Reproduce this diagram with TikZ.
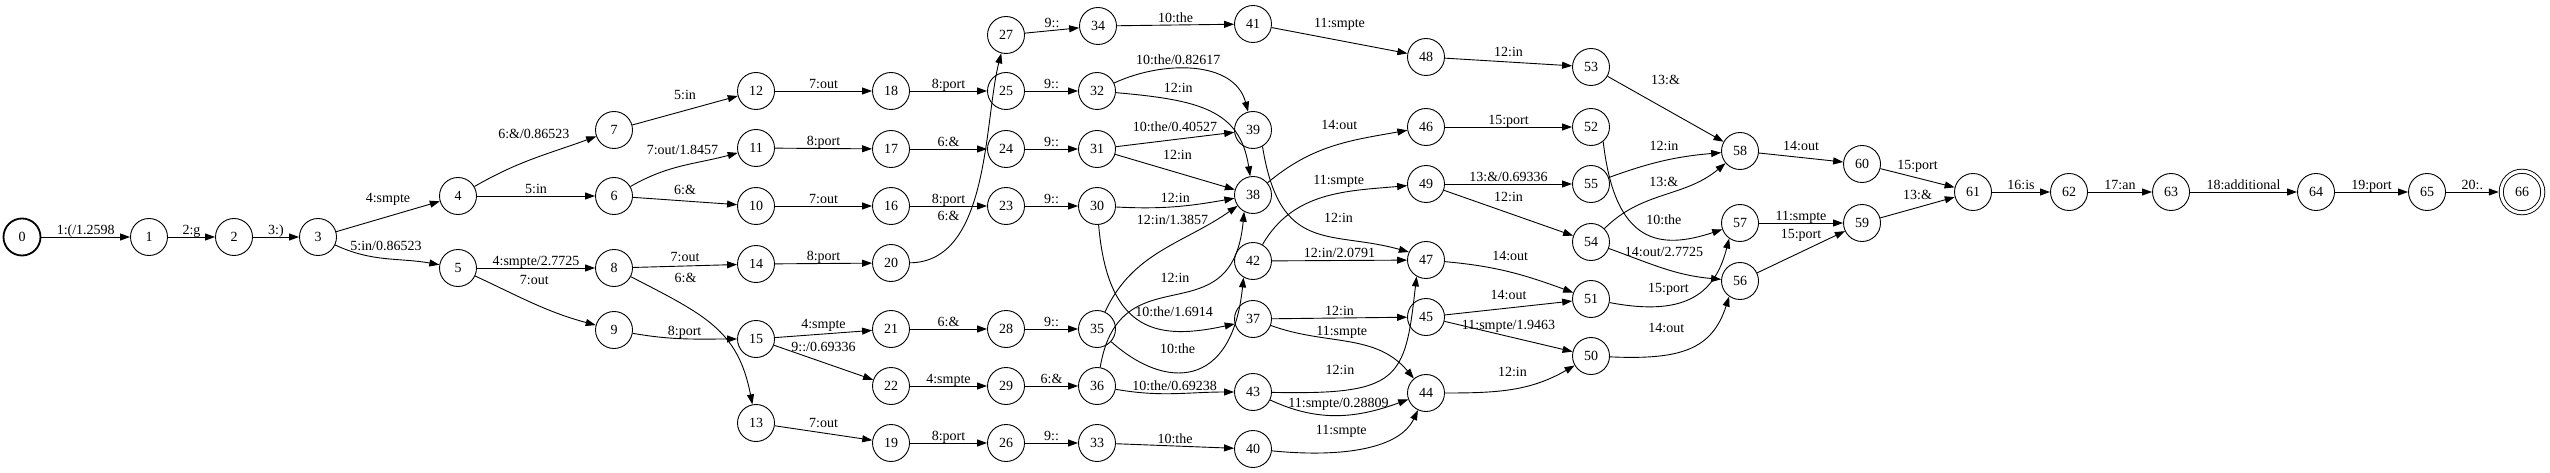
\documentclass[tikz,border=0pt]{standalone}
\usepackage{fontspec}
\setmainfont{Liberation Serif}
\usetikzlibrary{arrows.meta}

\begin{document}
\begin{tikzpicture}[x=1pt,y=1pt,>={Triangle[length=10pt,width=7pt]},line width=0.9pt,
   every node/.style={font=\fontsize{14}{16}\selectfont},
   st/.style={circle,draw,minimum size=37pt,inner sep=0pt},
   init/.style={st,line width=1.8pt},
   fin/.style={st,double,double distance=3.2pt,minimum size=41.5pt,outer sep=2.5pt},
   lab/.style={above,inner sep=0pt,text depth=2.5pt}]
   \useasboundingbox (0,0) rectangle (2550,-473);

   \node[init] (0) at (22,-237)  {0};
   \node[st] (1)  at (149,-237)  {1};
   \node[st] (2)  at (234,-237)  {2};
   \node[st] (3)  at (318,-237)  {3};
   \node[st] (4)  at (458,-196)  {4};
   \node[st] (5)  at (458,-268)  {5};
   \node[st] (6)  at (614,-196)  {6};
   \node[st] (7)  at (614,-130)  {7};
   \node[st] (8)  at (614,-268)  {8};
   \node[st] (9)  at (614,-330)  {9};
   \node[st] (10) at (756,-206)  {10};
   \node[st] (11) at (756,-148)  {11};
   \node[st] (12) at (756,-91)   {12};
   \node[st] (13) at (756,-423)  {13};
   \node[st] (14) at (756,-264)  {14};
   \node[st] (15) at (756,-339)  {15};
   \node[st] (16) at (891,-206)  {16};
   \node[st] (17) at (891,-149)  {17};
   \node[st] (18) at (891,-91)   {18};
   \node[st] (19) at (891,-443)  {19};
   \node[st] (20) at (891,-263)  {20};
   \node[st] (21) at (891,-329)  {21};
   \node[st] (22) at (891,-386)  {22};
   \node[st] (23) at (1006,-206) {23};
   \node[st] (24) at (1006,-149) {24};
   \node[st] (25) at (1006,-91)  {25};
   \node[st] (26) at (1006,-443) {26};
   \node[st] (27) at (1006,-35)  {27};
   \node[st] (28) at (1006,-329) {28};
   \node[st] (29) at (1006,-386) {29};
   \node[st] (30) at (1097,-206) {30};
   \node[st] (31) at (1097,-149) {31};
   \node[st] (32) at (1097,-91)  {32};
   \node[st] (33) at (1097,-443) {33};
   \node[st] (34) at (1098,-26)  {34};
   \node[st] (35) at (1097,-329) {35};
   \node[st] (36) at (1097,-386) {36};
   \node[st] (37) at (1253,-319) {37};
   \node[st] (38) at (1253,-195) {38};
   \node[st] (39) at (1253,-130) {39};
   \node[st] (40) at (1253,-449) {40};
   \node[st] (41) at (1253,-24)  {41};
   \node[st] (42) at (1253,-261) {42};
   \node[st] (43) at (1253,-392) {43};
   \node[st] (44) at (1426,-393) {44};
   \node[st] (45) at (1426,-317) {45};
   \node[st] (46) at (1426,-127) {46};
   \node[st] (47) at (1426,-260) {47};
   \node[st] (48) at (1426,-57)  {48};
   \node[st] (49) at (1426,-184) {49};
   \node[st] (50) at (1591,-356) {50};
   \node[st] (51) at (1591,-299) {51};
   \node[st] (52) at (1591,-127) {52};
   \node[st] (53) at (1591,-67)  {53};
   \node[st] (54) at (1591,-242) {54};
   \node[st] (55) at (1591,-184) {55};
   \node[st] (56) at (1740,-281) {56};
   \node[st] (57) at (1740,-223) {57};
   \node[st] (58) at (1740,-151) {58};
   \node[st] (59) at (1862,-223) {59};
   \node[st] (60) at (1862,-164) {60};
   \node[st] (61) at (1973,-192) {61};
   \node[st] (62) at (2069,-192) {62};
   \node[st] (63) at (2171,-192) {63};
   \node[st] (64) at (2316,-192) {64};
   \node[st] (65) at (2427,-192) {65};
   \node[fin] (66) at (2522,-192) {66};

    \path[->]
    (0)  edge node[lab] {1:(/1.2598} (1)
    (1)  edge node[lab] {2:g} (2)
    (2)  edge node[lab] {3:)} (3)
    (3)  edge node[lab,above=11pt] {4:smpte} (4)
         edge[out=-25,in=170] node[lab,above=5pt] {5:in/0.86523} (5)
    (4)  edge[out=30,in=200] node[lab,above=17pt] {6:\&/0.86523} (7)
         edge node[lab] {5:in} (6)
    (5)  edge node[lab] {4:smpte/2.7725} (8)
         edge[out=-25,in=165] node[lab,above=16pt] {7:out} (9)
    (7)  edge node[lab,above=8pt] {5:in} (12)
    (6)  edge[out=30,in=195] node[lab,above=8pt] {7:out/1.8457} (11)
         edge node[lab,above=4pt] {6:\&} (10)
    (8)  edge node[lab,above=2pt] {7:out} (14)
    (9)  edge[out=-10,in=180] node[lab] {8:port} (15)
    (12) edge node[lab] {7:out} (18)
    (11) edge node[lab] {8:port} (17)
    (10) edge node[lab] {7:out} (16)
    (14) edge node[lab] {8:port} (20)
    (15) edge node[lab,above=3pt] {4:smpte} (21)
         edge node[lab,above=8pt] {9::/0.69336} (22)
    (13) edge node[lab,above=3pt] {7:out} (19)
    (18) edge node[lab] {8:port} (25)
    (17) edge node[lab] {6:\&} (24)
    (16) edge node[lab] {8:port} (23)
    (21) edge node[lab] {6:\&} (28)
    (22) edge node[lab] {4:smpte} (29)
    (19) edge node[lab] {8:port} (26)
    (25) edge node[lab] {9::} (32)
    (24) edge node[lab] {9::} (31)
    (23) edge node[lab] {9::} (30)
    (27) edge node[lab] {9::} (34)
    (28) edge node[lab] {9::} (35)
    (29) edge node[lab] {6:\&} (36)
    (26) edge node[lab] {9::} (33)
    (34) edge node[lab] {10:the} (41)
    (32) edge[out=25,in=105] node[lab,pos=.4,above=1pt] {10:the/0.82617} (39)
    (31) edge node[lab,above=5pt] {10:the/0.40527} (39)
         edge node[lab,pos=.52,above=10pt] {12:in} (38)
    (30) edge[out=-3,in=190] node[lab,above=1pt] {12:in} (38)
    (35) edge[out=65,in=-145] node[lab,pos=.58,above=16pt] {12:in/1.3857} (38)
    (36) edge[out=-10,in=180] node[lab] {10:the/0.69238} (43)
    (33) edge node[lab] {10:the} (40)
    (41) edge node[lab,above=10pt] {11:smpte} (48)
    (38) edge[out=40,in=190] node[lab,pos=.55,above=12pt] {14:out} (46)
    (42) edge[out=60,in=185] node[lab,pos=.6,above=6pt] {11:smpte} (49)
         edge node[lab] {12:in/2.0791} (47)
    (37) edge node[lab] {12:in} (45)
         edge[out=-20,in=130] node[lab,pos=.45,above=3pt] {11:smpte} (44)
    (43) edge[out=-25,in=-160] node[lab,above=5pt] {11:smpte/0.28809} (44)
    (48) edge node[lab,above=3pt] {12:in} (53)
    (46) edge node[lab] {15:port} (52)
    (49) edge node[lab] {13:\&/0.69336} (55)
         edge node[lab,above=9pt] {12:in} (54)
    (47) edge[out=-5,in=160] node[lab,above=9pt] {14:out} (51)
    (45) edge node[lab,above=6pt] {14:out} (51)
         edge node[lab,above=4pt] {11:smpte/1.9463} (50)
    (44) edge[out=0,in=-150] node[lab,above=9pt] {12:in} (50)
    (53) edge node[lab,above=22pt] {13:\&} (58)
    (55) edge[out=20,in=185] node[lab,above=7pt] {12:in} (58)
    (54) edge[out=45,in=-140] node[lab,above=5pt] {13:\&} (58)
         edge[out=-20,in=175] node[lab,above=9pt] {14:out/2.7725} (56)
    (58) edge node[lab,above=4pt] {14:out} (60)
    (57) edge node[lab] {11:smpte} (59)
    (56) edge node[lab,above=11pt] {15:port} (59)
    (60) edge node[lab,above=6pt] {15:port} (61)
    (59) edge node[lab,above=5pt] {13:\&} (61)
    (61) edge node[lab] {16:is} (62)
    (62) edge node[lab] {17:an} (63)
    (63) edge node[lab] {18:additional} (64)
    (64) edge node[lab] {19:port} (65)
    (65) edge node[lab] {20:.} (66);

    % bent connectors
    \draw[->] (8) .. controls (705,-315) and (738,-330) .. (13) node[lab,pos=.29,above=21pt] {6:\&};
    \draw[->] (20) .. controls (990,-262) and (984,-120) .. (27) node[lab,pos=.2,above=24pt] {6:\&};
    \draw[->] (32) .. controls (1200,-100) and (1240,-110) .. (38) node[lab,pos=.29,above=6pt] {12:in};
    \draw[->] (30) .. controls (1108,-335) and (1160,-340) .. (37.195) node[lab,pos=.7,above=11pt] {10:the/1.6914};
    \draw[->] (35) .. controls (1165,-390) and (1232,-390) .. (42.-120) node[lab,pos=.4,above=16pt] {10:the};
    \draw[->] (36) .. controls (1120,-250) and (1232,-340) .. (38.-118) node[lab,pos=.5,above=8pt] {12:in};
    \draw[->] (39.-60) .. controls (1280,-255) and (1330,-230) .. (47.155) node[lab,pos=.66,above=13pt] {12:in};
    \draw[->] (43) .. controls (1400,-395) and (1405,-380) .. (47.-120) node[lab,pos=.22,above=13pt] {12:in};
    \draw[->] (40) .. controls (1345,-458) and (1400,-448) .. (44) node[lab,pos=.35,above=14pt] {11:smpte};
    \draw[->] (52.-50) .. controls (1615,-245) and (1660,-250) .. (57.200) node[lab,pos=.65,above=11pt] {10:the};
    \draw[->] (51) .. controls (1690,-318) and (1716,-290) .. (57.-125) node[lab,pos=.3,above=10pt] {15:port};
    \draw[->] (50) .. controls (1680,-360) and (1712,-350) .. (56.-125) node[lab,pos=.32,above=19pt] {14:out};
\end{tikzpicture}
\end{document}
